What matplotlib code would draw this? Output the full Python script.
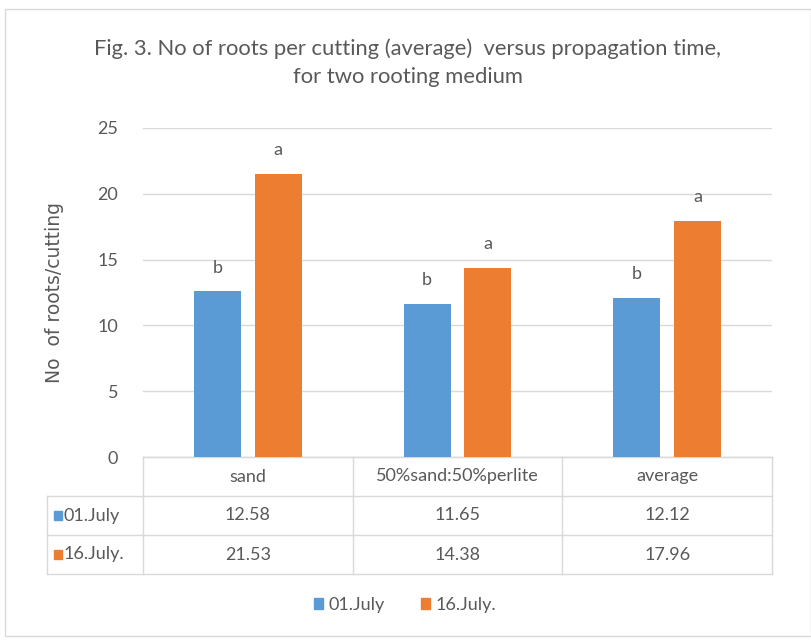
import matplotlib
matplotlib.use("Agg")
import matplotlib.pyplot as plt
import matplotlib.transforms as mtransforms
from matplotlib.patches import Rectangle
import numpy as np

categories = ["sand", "50%sand:50%perlite", "average"]
series_names = ["01.July", "16.July."]
july01 = [12.58, 11.65, 12.12]
july16 = [21.53, 14.38, 17.96]
letters01 = ["b", "b", "b"]
letters16 = ["a", "a", "a"]
yticks = [0, 5, 10, 15, 20, 25]
colors = ["#5B9BD5", "#ED7D31"]
title = "Fig. 3. No of roots per cutting (average)  versus propagation time,\nfor two rooting medium"
ylabel = "No  of roots/cutting"

TXT = "#595959"
GRID = "#D9D9D9"
narrow = ["Lato", "DejaVu Sans"]

W, H = 812, 642
fig = plt.figure(figsize=(W / 100, H / 100), dpi=100)

def fx(px):
    return px / W

def fy(py):
    return 1 - py / H

# outer frame
fig.patches.append(Rectangle((fx(5), fy(636)), fx(806), (636 - 9) / H,
                             transform=fig.transFigure, fill=False,
                             edgecolor=GRID, linewidth=1.0))

ax_l, ax_r, ax_t, ax_b = 143, 772, 128, 457
ax = fig.add_axes([fx(ax_l), fy(ax_b), (ax_r - ax_l) / W, (ax_b - ax_t) / H])

x = np.arange(len(categories))
bw = 0.225
off = 0.145
series = [july01, july16]
letters = [letters01, letters16]
for i, (vals, lets) in enumerate(zip(series, letters)):
    xs = x + (off if i == 1 else -off)
    ax.bar(xs, vals, width=bw, color=colors[i], zorder=3)
    for xi, v, l in zip(xs, vals, lets):
        ax.annotate(l, (xi, v), xytext=(0, 11), textcoords="offset points",
                    ha="center", va="bottom", fontsize=13, color=TXT,
                    family=narrow)

ax.set_xlim(-0.5, len(categories) - 0.5)
ax.set_ylim(0, 25)
ax.set_yticks(yticks)
ax.set_yticklabels([str(t) for t in yticks], fontsize=13, color=TXT, family=narrow)
ax.tick_params(axis="y", length=0, pad=18)
ax.set_xticks([])
ax.grid(axis="y", color=GRID, linewidth=1.0, zorder=0)
for s in ["left", "right", "top"]:
    ax.spines[s].set_visible(False)
ax.spines["bottom"].set_color(GRID)
ax.set_ylabel(ylabel, fontsize=13.5, color=TXT, labelpad=24)

# data table drawn below the axes
trans = mtransforms.blended_transform_factory(ax.transData, ax.transAxes)
ph = ax_b - ax_t
cat_px = (ax_r - ax_l) / len(categories)
row_h = 39 / ph
left_lab = -0.5 - 96 / cat_px
right = len(categories) - 0.5
n_rows = 1 + len(series)
ys = [-row_h * k for k in range(n_rows + 1)]
lkw = dict(transform=trans, clip_on=False, color=GRID, linewidth=1.0)

# horizontal lines
ax.plot([-0.5, right], [ys[0], ys[0]], **lkw)
for yv in ys[1:]:
    ax.plot([left_lab, right], [yv, yv], **lkw)
# vertical lines
ax.plot([left_lab, left_lab], [ys[1], ys[-1]], **lkw)
for xb in np.arange(len(categories) + 1) - 0.5:
    ax.plot([xb, xb], [ys[0], ys[-1]], **lkw)

tkw = dict(transform=trans, ha="center", va="center", fontsize=13,
           color=TXT, family=narrow)
for i, c in enumerate(categories):
    ax.text(i, (ys[0] + ys[1]) / 2, c, **tkw)
sq_w = 8 / cat_px
sq_h = 9 / ph
for r, (name, vals) in enumerate(zip(series_names, series)):
    yc = (ys[r + 1] + ys[r + 2]) / 2
    for i, v in enumerate(vals):
        ax.text(i, yc, f"{v:.2f}", **tkw)
    ax.add_patch(Rectangle((left_lab + 7 / cat_px, yc - sq_h / 2), sq_w, sq_h,
                           transform=trans, clip_on=False, color=colors[r]))
    ax.text(left_lab + 17 / cat_px, yc, name, transform=trans, ha="left",
            va="center", fontsize=13, color=TXT, family=narrow)

# title
fig.text(fx(408), fy(63), title, ha="center", va="center", fontsize=15.8,
         color=TXT, family=narrow, linespacing=1.5)

# legend
handles = [Rectangle((0, 0), 1, 1, color=c) for c in colors]
fig.legend(handles, series_names, loc="center", bbox_to_anchor=(fx(405), fy(605)),
           ncol=2, frameon=False, handlelength=0.5, handleheight=0.5,
           handletextpad=0.3, columnspacing=2.0,
           prop={"family": narrow, "size": 13}, labelcolor=TXT)

fig.savefig("out.png", dpi=100)
